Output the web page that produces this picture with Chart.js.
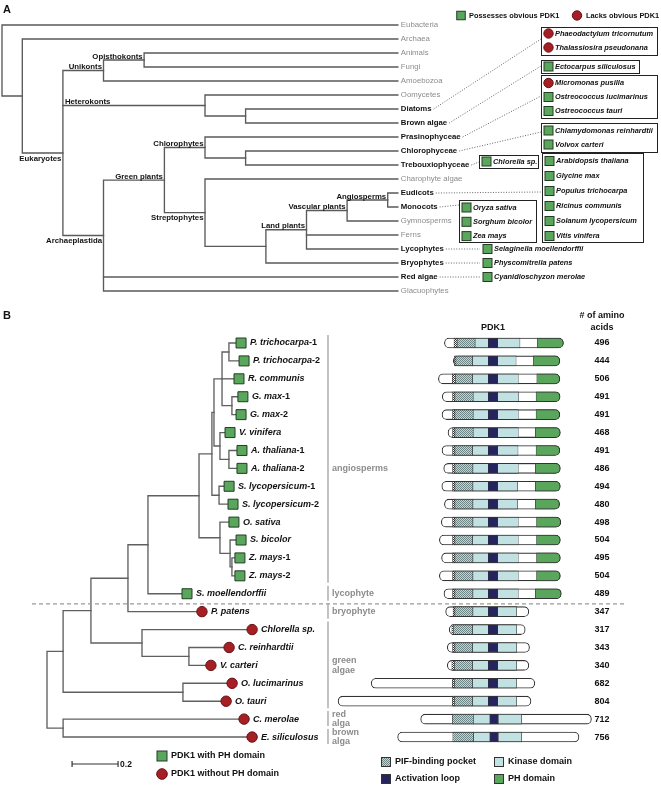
<!DOCTYPE html>
<html>
<head>
<meta charset="utf-8">
<title>PDK1 distribution and domain structure</title>
<script src="https://cdn.jsdelivr.net/npm/chart.js@4.4.1/dist/chart.umd.min.js"></script>
<style>
  body { margin: 0; background: #fff; }
  #wrap { position: relative; width: 661px; height: 785px; }
  #wrap canvas { position: absolute; left: 0; top: 0; }
</style>
</head>
<body>
<div id="wrap">
  <canvas id="treeA" width="661" height="785"></canvas>
  <canvas id="treeB" width="661" height="785"></canvas>
  <canvas id="domains" width="661" height="785"></canvas>
</div>
<script>
// ---------- panel A : eukaryote cladogram ----------
const taxaA = ['Eubacteria', 'Archaea', 'Animals', 'Fungi', 'Amoebozoa', 'Oomycetes', 'Diatoms', 'Brown algae',
  'Prasinophyceae', 'Chlorophyceae', 'Trebouxiophyceae', 'Charophyte algae', 'Eudicots', 'Monocots',
  'Gymnosperms', 'Ferns', 'Lycophytes', 'Bryophytes', 'Red algae', 'Glacuophytes'];
const surveyedA = [0, 0, 0, 0, 0, 0, 1, 1, 1, 1, 1, 0, 1, 1, 0, 0, 1, 1, 1, 0];
const tipLevelA = 9.75;
// [level, optional clade name, ...children]; plain numbers are taxa indices
const treeA = [0, 0, [0.5, 1, [1.5, 'Eukaryotes',
  [2.5, 'Unikonts', [3.5, 'Opisthokonts', 2, 3], 4],
  [5, 'Heterokonts', 5, [6, 6, 7]],
  [2.5, 'Archaeplastida',
    [4, 'Green plants',
      [5, 'Chlorophytes', 8, [6, 9, 10]],
      [5, 'Streptophytes', 11,
        [6.5, [7.5, 'Land plants', [8.5, 'Vascular plants', [9.5, 'Angiosperms', 12, 13], 14], 15, 16], 17]]],
    18, 19]]]];

const groupTaxonA = [6, 7, 8, 9, 10, 12, 13, 16, 17, 18];
const groupSpeciesA = [
  ['Phaeodactylum tricornutum', 'Thalassiosira pseudonana'],
  ['Ectocarpus siliculosus'],
  ['Micromonas pusilla', 'Ostreococcus lucimarinus', 'Ostreococcus tauri'],
  ['Chlamydomonas reinhardtii', 'Volvox carteri'],
  ['Chlorella sp.'],
  ['Arabidopsis thaliana', 'Glycine max', 'Populus trichocarpa', 'Ricinus communis', 'Solanum lycopersicum', 'Vitis vinifera'],
  ['Oryza sativa', 'Sorghum bicolor', 'Zea mays'],
  ['Selaginella moellendorffii'],
  ['Physcomitrella patens'],
  ['Cyanidioschyzon merolae']
];
const groupHasPdkA = [[0, 0], [1], [0, 1, 1], [1, 1], [1], [1, 1, 1, 1, 1, 1], [1, 1, 1], [1], [1], [1]];

// ---------- panel B : PDK1 gene tree + domains ----------
const proteinsB = ['P. trichocarpa-1', 'P. trichocarpa-2', 'R. communis', 'G. max-1', 'G. max-2', 'V. vinifera',
  'A. thaliana-1', 'A. thaliana-2', 'S. lycopersicum-1', 'S. lycopersicum-2', 'O. sativa', 'S. bicolor',
  'Z. mays-1', 'Z. mays-2', 'S. moellendorffii', 'P. patens', 'Chlorella sp.', 'C. reinhardtii', 'V. carteri',
  'O. lucimarinus', 'O. tauri', 'C. merolae', 'E. siliculosus'];
const tipDepthB = [0.822, 0.835, 0.813, 0.830, 0.822, 0.774, 0.826, 0.826, 0.770, 0.787, 0.791, 0.822,
  0.817, 0.817, 0.587, 0.652, 0.870, 0.770, 0.691, 0.783, 0.757, 0.835, 0.870];
// [depth, ...children]
const treeB = [0,
  [0.070,
    [0.191,
      [0.352,
        [0.439,
          [0.661,
            [0.717,
              [0.726,
                [0.761, [0.791, 0, 1], 2, [0.804, 3, 4]],
                [0.752, 5, [0.791, 6, 7]]],
              [0.748, 8, 9]],
            [0.752, 10, [0.796, 11, [0.804, 12, 13]]]],
          14],
        15],
      [0.413, 16, [0.617, 17, 18]]],
    [0.591, 19, 20]],
  [0.070, 21, 22]];

const aaLengthB = [496, 444, 506, 491, 491, 468, 491, 486, 494, 480, 498, 504, 495, 504, 489, 347, 317, 343, 340, 682, 804, 712, 756];
// residue positions relative to the start of the activation loop
const nTermB = [-183, -146, -208, -192, -193, -168, -193, -186, -194, -183, -196, -204, -195, -204, -185, -178, -163, -171, -171, -488, -626, -282, -378];
const dotStartB = [-143, -141, -150, -149, -149, -149, -149, -149, -149, -149, -149, -149, -149, -149, -149, -147, -152, -149, -152, -150, -150, null, null];
const pifStartB = [-130, -135, -137, -139, -139, -139, -139, -139, -139, -139, -139, -139, -139, -139, -139, -139, -146, -139, -141, -141, -141, -150, -148];
const kinStartB = [-55, -65, -65, -63, -63, -63, -65, -64, -64, -64, -64, -65, -64, -64, -64, -64, -65, -65, -65, -65, -65, -62, -61];
const loopStartB = [0, 0, 0, 0, 0, 0, 0, 0, 0, 0, 0, 0, 0, 0, 0, 0, 0, 0, 0, 0, 0, 7, 7];
const loopEndB = [39, 39, 39, 39, 39, 39, 39, 39, 39, 39, 39, 39, 39, 39, 39, 39, 39, 39, 39, 39, 39, 41, 41];
const kinEndB = [132, 116, 125, 127, 125, 125, 124, 125, 122, 122, 125, 125, 125, 125, 125, 118, 118, 118, 118, 118, 118, 139, 139];
const phStartB = [204, 188, 202, 199, 199, 196, 199, 196, 196, 196, 201, 201, 201, 201, 196, null, null, null, null, null, null, null, null];

const groupNamesB = ['angiosperms', 'lycophyte', 'bryophyte', 'green\nalgae', 'red\nalga', 'brown\nalga'];
const groupRowsB = [[0, 13], [14, 14], [15, 15], [16, 20], [21, 21], [22, 22]];

// ---------- look ----------
const FONT = '"Liberation Sans", Arial, Helvetica, sans-serif';
const GREEN = '#5aa65c', GREEN_EDGE = '#223d23';
const RED = '#a51f24', RED_EDGE = '#651115';
const KINASE = '#c2e1e3', LOOP = '#25245f';
const GRAY_TEXT = '#8c8c8c';

// pixel layout of the three overlaid charts
const A_X0 = 2, A_LEVEL = 40.6, A_Y0 = 25, A_ROW = 14;
const B_X0 = 47, B_PX_PER_SUB = 230, B_Y0 = 343, B_ROW = 17.91;
const D_X0 = 488.3, D_PX_PER_AA = 0.24;
const W = 661, H = 785;
const markerShiftB = 5 / B_PX_PER_SUB;

// box x, box top, width, height, first row y, row step, connector end y  (top null: no frame, row on taxon)
const boxLayoutA = [
  [541, 27, 116, 28, 33.5, 14, 39],
  [541, 60, 98, 13, 66.5, 0, 66],
  [541, 75, 116, 43, 83, 14, 96],
  [541, 123, 116, 29, 130.5, 14, 132],
  [479, 155, 59, 13, 161.5, 0, 162],
  [542, 153, 101, 89, 161, 15, 192],
  [459, 200, 77, 42, 207.5, 14.3, 205],
  [480, null, 0, 0, 0, 0, 0],
  [480, null, 0, 0, 0, 0, 0],
  [480, null, 0, 0, 0, 0, 0]
];
const cladeSideA = { Eukaryotes: 'below', Streptophytes: 'below', Archaeplastida: 'below', Heterokonts: 'left' };
const groupLabelRowB = [7, 14, 15, 18, 21, 22];

function font(size, style) { return (style ? style + ' ' : '') + size + 'px ' + FONT; }

function frame(xMin, xMax, yMin, yMax) {
  return {
    responsive: false, animation: false, events: [],
    layout: { padding: 0, autoPadding: false },
    plugins: { legend: { display: false }, tooltip: { enabled: false }, title: { display: false } },
    scales: {
      x: { type: 'linear', display: false, min: xMin, max: xMax, bounds: 'data', offset: false },
      y: { type: 'linear', display: false, min: yMin, max: yMax, reverse: true, bounds: 'data', offset: false }
    }
  };
}

// rectangular tree: one polyline per bracket, extra stubs for middle children
function layoutTree(node, tipX, segs, clades) {
  if (typeof node === 'number') return { x: tipX(node), y: node };
  const depth = node[0];
  const name = typeof node[1] === 'string' ? node[1] : null;
  const kids = node.slice(name ? 2 : 1).map(k => layoutTree(k, tipX, segs, clades));
  const first = kids[0], last = kids[kids.length - 1];
  segs.push([{ x: first.x, y: first.y }, { x: depth, y: first.y }, { x: depth, y: last.y }, { x: last.x, y: last.y }]);
  kids.slice(1, -1).forEach(k => segs.push([{ x: depth, y: k.y }, { x: k.x, y: k.y }]));
  kids.forEach(k => { k.parentX = depth; });
  const me = { x: depth, y: (first.y + last.y) / 2, name };
  if (name) clades.push(me);
  return me;
}

function branch(points, color) {
  return {
    data: points, showLine: true, borderColor: color, borderWidth: 1.35,
    pointRadius: 0, pointHoverRadius: 0, tension: 0,
    borderJoinStyle: 'miter', borderCapStyle: 'square', fill: false
  };
}

function drawSquare(ctx, cx, cy, s) {
  ctx.fillStyle = GREEN;
  ctx.fillRect(cx - s / 2, cy - s / 2, s, s);
  ctx.strokeStyle = GREEN_EDGE;
  ctx.lineWidth = 1;
  ctx.strokeRect(cx - s / 2, cy - s / 2, s, s);
}

function drawCircle(ctx, cx, cy, r) {
  ctx.beginPath();
  ctx.arc(cx, cy, r, 0, Math.PI * 2);
  ctx.fillStyle = RED;
  ctx.fill();
  ctx.strokeStyle = RED_EDGE;
  ctx.lineWidth = 1;
  ctx.stroke();
}

function makePattern(a, b) {
  const c = document.createElement('canvas');
  c.width = 2; c.height = 2;
  const g = c.getContext('2d');
  g.fillStyle = b; g.fillRect(0, 0, 2, 2);
  g.fillStyle = a; g.fillRect(0, 0, 1, 1); g.fillRect(1, 1, 1, 1);
  return g.createPattern(c, 'repeat');
}
const pifPattern = makePattern('#6f8686', '#c6d3d3');
const dotPattern = makePattern('#333333', '#ffffff');

// ---------- panel A ----------
const segsA = [], cladesA = [];
layoutTree(treeA, () => tipLevelA, segsA, cladesA);

const panelAText = {
  id: 'panelAText',
  afterDatasetsDraw(chart) {
    const { ctx, scales: { x, y } } = chart;
    ctx.save();
    ctx.font = font(11, 'bold');
    ctx.fillStyle = '#111';
    ctx.textBaseline = 'middle';
    ctx.fillText('A', 3, 10);

    // taxa
    const labelEnd = [];
    ctx.textAlign = 'left';
    taxaA.forEach((name, i) => {
      ctx.font = surveyedA[i] ? font(7.8, 'bold') : font(7.8);
      ctx.fillStyle = surveyedA[i] ? '#111' : GRAY_TEXT;
      const tx = x.getPixelForValue(tipLevelA) + 3;
      ctx.fillText(name, tx, y.getPixelForValue(i));
      labelEnd[i] = tx + ctx.measureText(name).width;
    });

    // clade names
    ctx.font = font(7.8, 'bold');
    ctx.fillStyle = '#111';
    cladesA.forEach(c => {
      const side = cladeSideA[c.name] || 'above';
      const px = x.getPixelForValue(c.x), py = y.getPixelForValue(c.y);
      if (side === 'left') {
        ctx.textAlign = 'left'; ctx.textBaseline = 'alphabetic';
        ctx.fillText(c.name, x.getPixelForValue(c.parentX) + 2, py - 2);
      } else if (side === 'below') {
        ctx.textAlign = 'right'; ctx.textBaseline = 'top';
        ctx.fillText(c.name, px - 1.5, py + 1.5);
      } else {
        ctx.textAlign = 'right'; ctx.textBaseline = 'alphabetic';
        ctx.fillText(c.name, px - 1.5, py - 1.5);
      }
    });

    // species groups
    ctx.textAlign = 'left';
    ctx.textBaseline = 'middle';
    groupTaxonA.forEach((t, g) => {
      const [bx, by, bw, bh, row0, step, endY] = boxLayoutA[g];
      const ty = y.getPixelForValue(t);
      const rowY = by === null ? ty : row0;
      const targetY = by === null ? ty : endY;
      ctx.save();
      ctx.setLineDash([1, 1.6]);
      ctx.strokeStyle = '#555';
      ctx.lineWidth = 0.9;
      ctx.beginPath();
      ctx.moveTo(labelEnd[t] + 2, ty);
      ctx.lineTo(bx, targetY);
      ctx.stroke();
      ctx.restore();
      if (by !== null) {
        ctx.strokeStyle = '#222';
        ctx.lineWidth = 1;
        ctx.strokeRect(bx + 0.5, by + 0.5, bw, bh);
      }
      groupSpeciesA[g].forEach((sp, k) => {
        const cy = rowY + k * step;
        if (groupHasPdkA[g][k]) drawSquare(ctx, bx + 7.5, cy, 9);
        else drawCircle(ctx, bx + 7.5, cy, 4.7);
        ctx.font = font(7.4, 'italic bold');
        ctx.fillStyle = '#111';
        ctx.fillText(sp, bx + 14, cy);
      });
    });

    // legend
    drawSquare(ctx, 461, 15.5, 8.5);
    drawCircle(ctx, 577, 15.5, 4.7);
    ctx.font = font(7.4, 'bold');
    ctx.fillStyle = '#111';
    ctx.fillText('Possesses obvious PDK1', 469, 15.5);
    ctx.fillText('Lacks obvious PDK1', 586, 15.5);
    ctx.restore();
  }
};

new Chart(document.getElementById('treeA'), {
  type: 'scatter',
  data: { datasets: segsA.map(p => branch(p, '#5a5a5a')) },
  options: frame(-A_X0 / A_LEVEL, (W - A_X0) / A_LEVEL, -A_Y0 / A_ROW, (H - A_Y0) / A_ROW),
  plugins: [panelAText]
});

// ---------- panel B tree ----------
const segsB = [], cladesB = [];
layoutTree(treeB, i => tipDepthB[i], segsB, cladesB);
const rowsB = proteinsB.map((_, i) => i);
const withPH = rowsB.filter(i => phStartB[i] !== null);
const withoutPH = rowsB.filter(i => phStartB[i] === null);

const panelBText = {
  id: 'panelBText',
  afterDatasetsDraw(chart) {
    const { ctx, scales: { x, y } } = chart;
    ctx.save();
    ctx.font = font(11, 'bold');
    ctx.fillStyle = '#111';
    ctx.textBaseline = 'middle';
    ctx.textAlign = 'left';
    ctx.fillText('B', 3, 316);

    proteinsB.forEach((name, i) => {
      const m = name.match(/^(.*?)(-\d)?$/);
      let tx = x.getPixelForValue(tipDepthB[i] + markerShiftB) + 9;
      const ty = y.getPixelForValue(i);
      ctx.font = font(9, 'italic bold');
      ctx.fillText(m[1], tx, ty);
      if (m[2]) {
        tx += ctx.measureText(m[1]).width;
        ctx.font = font(9, 'bold');
        ctx.fillText(m[2], tx, ty);
      }
    });

    // lineage brackets
    groupNamesB.forEach((nm, g) => {
      const [r0, r1] = groupRowsB[g];
      ctx.strokeStyle = '#9a9a9a';
      ctx.lineWidth = 1.2;
      ctx.beginPath();
      ctx.moveTo(328, y.getPixelForValue(r0) - 8);
      ctx.lineTo(328, y.getPixelForValue(r1) + 7);
      ctx.stroke();
      const lines = nm.split('\n');
      const cy = y.getPixelForValue(groupLabelRowB[g]);
      ctx.font = font(9, 'bold');
      ctx.fillStyle = GRAY_TEXT;
      lines.forEach((ln, k) => ctx.fillText(ln, 332, cy + (k - (lines.length - 1) / 2) * 9.5));
    });

    // separator between vascular and non-vascular lineages
    ctx.save();
    ctx.setLineDash([4, 3]);
    ctx.strokeStyle = '#999';
    ctx.lineWidth = 1.3;
    const sy = y.getPixelForValue(14.57);
    ctx.beginPath();
    ctx.moveTo(32, sy);
    ctx.lineTo(627, sy);
    ctx.stroke();
    ctx.restore();

    // scale bar
    const s0 = x.getPixelForValue(0.109), s1 = x.getPixelForValue(0.309);
    ctx.strokeStyle = '#333';
    ctx.lineWidth = 1.2;
    ctx.beginPath();
    ctx.moveTo(s0, 764); ctx.lineTo(s1, 764);
    ctx.moveTo(s0, 761); ctx.lineTo(s0, 767);
    ctx.moveTo(s1, 761); ctx.lineTo(s1, 767);
    ctx.stroke();
    ctx.font = font(8.5, 'bold');
    ctx.fillStyle = '#111';
    ctx.fillText('0.2', s1 + 2, 765);

    // legend
    drawSquare(ctx, 162, 756, 10);
    drawCircle(ctx, 162, 774, 5.3);
    ctx.font = font(9, 'bold');
    ctx.fillStyle = '#111';
    ctx.fillText('PDK1 with PH domain', 171, 756);
    ctx.fillText('PDK1 without PH domain', 171, 774);
    ctx.restore();
  }
};

new Chart(document.getElementById('treeB'), {
  type: 'scatter',
  data: {
    datasets: [
      {
        data: withPH.map(i => ({ x: tipDepthB[i] + markerShiftB, y: i })),
        pointStyle: 'rect', pointRadius: 7.07, pointHoverRadius: 7.07,
        pointBackgroundColor: GREEN, pointBorderColor: GREEN_EDGE, pointBorderWidth: 1
      },
      {
        data: withoutPH.map(i => ({ x: tipDepthB[i] + markerShiftB, y: i })),
        pointStyle: 'circle', pointRadius: 5.2, pointHoverRadius: 5.2,
        pointBackgroundColor: RED, pointBorderColor: RED_EDGE, pointBorderWidth: 1
      },
      ...segsB.map(p => branch(p, '#606060'))
    ]
  },
  options: frame(-B_X0 / B_PX_PER_SUB, (W - B_X0) / B_PX_PER_SUB, -B_Y0 / B_ROW, (H - B_Y0) / B_ROW),
  plugins: [panelBText]
});

// ---------- panel B domains ----------
const cTermB = nTermB.map((s, i) => s + aaLengthB[i]);
function spans(starts, ends) {
  return rowsB.filter(i => starts[i] !== null && ends[i] !== null).map(i => ({ y: i, x: [starts[i], ends[i]] }));
}
function domainBars(label, data, fill, extra) {
  return Object.assign({
    label, data, backgroundColor: fill, borderColor: '#333',
    borderWidth: { top: 1, bottom: 1, left: 0.6, right: 0.6 },
    borderSkipped: false, borderRadius: 0, barThickness: 10, grouped: false
  }, extra || {});
}

const domainText = {
  id: 'domainText',
  afterDatasetsDraw(chart) {
    const { ctx, scales: { y } } = chart;
    ctx.save();
    ctx.fillStyle = '#111';
    ctx.textBaseline = 'middle';
    ctx.textAlign = 'center';
    ctx.font = font(9, 'bold');
    ctx.fillText('PDK1', 493, 328);
    ctx.fillText('# of amino', 602, 316);
    ctx.fillText('acids', 602, 328);
    aaLengthB.forEach((n, i) => ctx.fillText(String(n), 602, y.getPixelForValue(i)));

    // domain legend
    const swatch = (fill, sx, sy) => {
      ctx.fillStyle = fill;
      ctx.fillRect(sx, sy - 5, 10, 10);
      ctx.strokeStyle = '#333';
      ctx.lineWidth = 1;
      ctx.strokeRect(sx + 0.5, sy - 4.5, 9, 9);
    };
    swatch(pifPattern, 381, 762);
    swatch(KINASE, 494, 762);
    swatch(LOOP, 381, 779);
    swatch(GREEN, 494, 779);
    ctx.textAlign = 'left';
    ctx.fillStyle = '#111';
    ctx.fillText('PIF-binding pocket', 395, 762);
    ctx.fillText('Kinase domain', 508, 762);
    ctx.fillText('Activation loop', 395, 779);
    ctx.fillText('PH domain', 508, 779);
    ctx.restore();
  }
};

const domainOptions = frame(-D_X0 / D_PX_PER_AA, (W - D_X0) / D_PX_PER_AA, -B_Y0 / B_ROW, (H - B_Y0) / B_ROW);
domainOptions.indexAxis = 'y';

new Chart(document.getElementById('domains'), {
  type: 'bar',
  data: {
    datasets: [
      domainBars('Activation loop', spans(loopStartB, loopEndB), LOOP),
      domainBars('PH domain', spans(phStartB, cTermB), GREEN, {
        borderRadius: { topLeft: 0, bottomLeft: 0, topRight: 5, bottomRight: 5 },
        borderWidth: { top: 1, bottom: 1, left: 0.6, right: 1.1 }
      }),
      domainBars('Kinase domain C-lobe', spans(loopEndB, kinEndB), KINASE),
      domainBars('Kinase domain N-lobe', spans(kinStartB, loopStartB), KINASE),
      domainBars('PIF-binding pocket', spans(pifStartB, kinStartB), pifPattern),
      domainBars('Pocket edge', spans(dotStartB, pifStartB), dotPattern),
      domainBars('Full length', spans(nTermB, cTermB), '#ffffff', { borderRadius: 5, borderWidth: 1.1 })
    ]
  },
  options: domainOptions,
  plugins: [domainText]
});
</script>
</body>
</html>
